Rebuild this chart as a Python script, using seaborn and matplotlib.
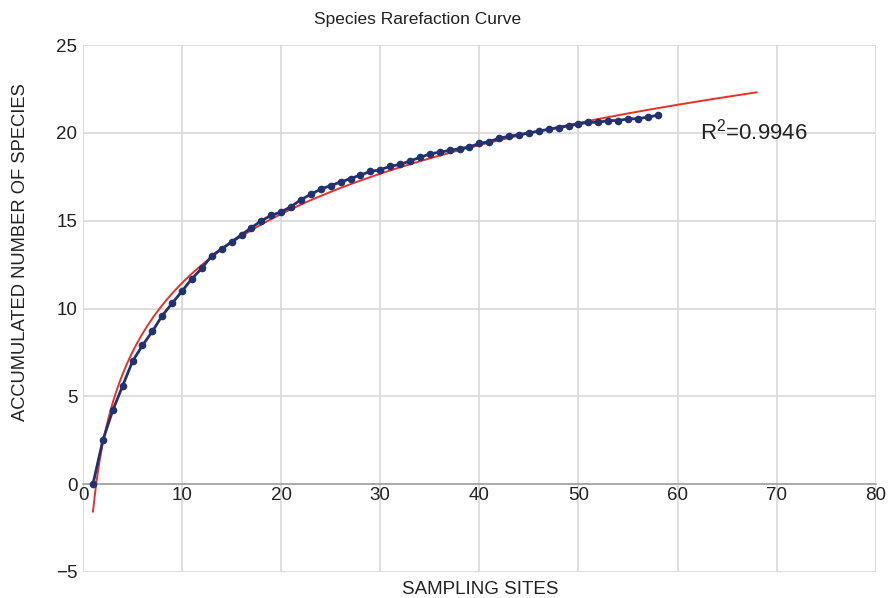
import numpy as np
import pandas as pd
import matplotlib
matplotlib.use('Agg')
import matplotlib.pyplot as plt
import seaborn as sns

# Accumulated species per sampling site
sites = list(range(1, 59))
species = [0.0, 2.5, 4.2, 5.6, 7.0, 7.9, 8.7, 9.6, 10.3, 11.0,
           11.7, 12.3, 13.0, 13.4, 13.8, 14.2, 14.6, 15.0, 15.3, 15.5,
           15.8, 16.2, 16.5, 16.8, 17.0, 17.2, 17.4, 17.6, 17.8, 17.9,
           18.1, 18.2, 18.4, 18.6, 18.8, 18.9, 19.0, 19.1, 19.2, 19.4,
           19.5, 19.7, 19.8, 19.9, 20.0, 20.1, 20.2, 20.3, 20.4, 20.5,
           20.6, 20.6, 20.7, 20.7, 20.8, 20.8, 20.9, 21.0]
r2_label = 'R$^2$=0.9946'
forecast_to = 68

df = pd.DataFrame({'site': sites, 'species': species})

# logarithmic trend line fitted to the data, extended forward
a, b = np.polyfit(np.log(df['site']), df['species'], 1)
trend_x = np.linspace(1, forecast_to, 200)
trend = pd.DataFrame({'site': trend_x, 'species': a * np.log(trend_x) + b})

sns.set_style('white')
plt.rcParams['font.family'] = ['Liberation Sans', 'DejaVu Sans']
plt.rcParams['mathtext.fontset'] = 'custom'
plt.rcParams['mathtext.rm'] = 'Liberation Sans'

fig = plt.figure(figsize=(8.89, 5.98), dpi=100)
ax = fig.add_axes([0.0934, 0.0435, 0.8916, 0.8812])

sns.lineplot(data=trend, x='site', y='species', color='#e8302a', linewidth=1.4, ax=ax, zorder=2)
sns.lineplot(data=df, x='site', y='species', color='#22326e', linewidth=2, marker='o',
             markersize=5.5, markeredgewidth=0, ax=ax, zorder=3)

ax.set_xlim(0, 80)
ax.set_ylim(-5, 25)
ax.set_xticks(range(0, 81, 10))
ax.set_yticks(range(-5, 26, 5))
ax.set_yticklabels(['\u22125', '0', '5', '10', '15', '20', '25'])
ax.grid(True, color='#d8d8d8', linewidth=1.2)
ax.set_axisbelow(True)

for s in ['top', 'right', 'left']:
    ax.spines[s].set_visible(False)
ax.spines['bottom'].set_position(('data', 0))
ax.spines['bottom'].set_color('#a0a0a0')
ax.spines['bottom'].set_linewidth(1.2)
ax.tick_params(axis='both', length=0, labelsize=13.5, pad=4, colors='#222222')
ax.tick_params(axis='x', pad=2)

ax.set_xlabel('')
ax.set_ylabel('')
fig.text(0.470, 0.9666, 'Species Rarefaction Curve', ha='center', va='center',
         fontsize=12.5, color='#222222')
fig.text(0.540, 0.0134, 'SAMPLING SITES', ha='center', va='center', fontsize=13.5, color='#222222')
fig.text(0.0225, 0.5786, 'ACCUMULATED NUMBER OF SPECIES', ha='center', va='center',
         rotation=90, fontsize=13.2, color='#222222')

ax.text(62.3, 20.1, r2_label, fontsize=16, va='center', ha='left', color='#222222')

fig.savefig('out.png', dpi=100)
